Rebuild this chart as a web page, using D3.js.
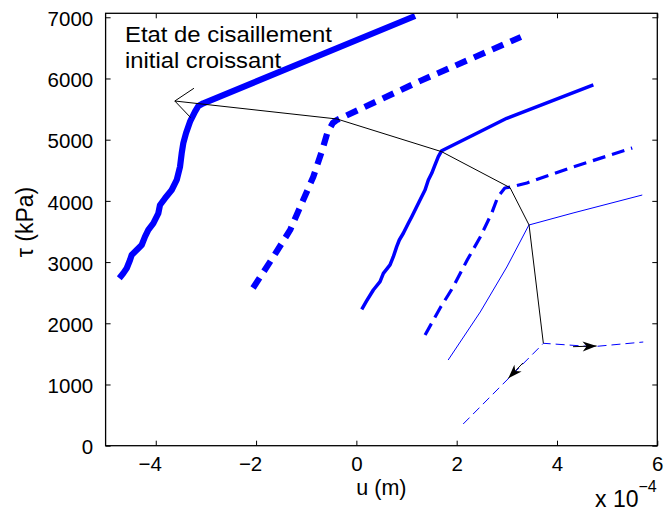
<!DOCTYPE html>
<html>
<head>
<meta charset="utf-8">
<script src="https://cdn.jsdelivr.net/npm/d3@7/dist/d3.min.js"></script>
<style>
  html, body { margin: 0; padding: 0; background: #fff; }
  svg { display: block; }
  text { font-family: "Liberation Sans", Arial, sans-serif; }
</style>
</head>
<body>
<svg id="chart" width="665" height="515"></svg>
<script>
// ---- data (u in units of 1e-4 m, tau in kPa) ----
const curve1 = [[-4.727,2735],[-4.647,2817],[-4.579,2899],[-4.513,3034],[-4.480,3116],[-4.380,3198],[-4.280,3279],[-4.214,3415],[-4.148,3525],[-4.049,3634],[-3.949,3797],[-3.915,3933],[-3.816,4042],[-3.682,4178],[-3.582,4342],[-3.516,4559],[-3.483,4778],[-3.451,4941],[-3.397,5105],[-3.317,5294],[-3.217,5458],[-3.151,5551],[-3.052,5595],[1.170,7021]];
const curve2 = [[-2.06,2577],[-1.66,3080],[-1.32,3525],[-1.06,4015],[-0.86,4391],[-0.68,4832],[-0.58,5110],[-0.47,5273],[-0.39,5322],[1.27,5959],[3.28,6678]];
const curve3 = [[0.107,2229],[0.207,2369],[0.338,2544],[0.472,2680],[0.538,2817],[0.671,2953],[0.737,3088],[0.804,3252],[0.856,3361],[0.936,3471],[1.036,3634],[1.104,3742],[1.269,4015],[1.369,4178],[1.435,4342],[1.502,4451],[1.568,4587],[1.634,4722],[1.702,4820],[2.332,5077],[2.998,5350],[4.725,5894]];
const curve4 = [[1.37,1809],[1.67,2250],[1.93,2593],[2.21,3034],[2.47,3410],[2.70,3802],[2.82,4064],[2.96,4211],[3.08,4227],[3.40,4293],[4.32,4554],[5.50,4864]];
const curve5 = [[1.83,1400],[2.47,2185],[3.00,2920],[3.44,3606],[4.32,3802],[5.70,4096]];
const curve6 = [[2.13,355],[3.73,1673],[4.72,1618],[5.72,1694]];
const yieldPath = [[-3.62,5632],[-0.386,5338],[1.70,4804],[3.064,4216],[3.443,3606],[3.728,1673]];
const arrows = [ // [tail, tip]
  [[4.32,1618],[4.79,1629]],
  [[3.32,1351],[3.03,1101]]
];
const xTicks = [-4,-2,0,2,4,6];
const yTicks = [0,1000,2000,3000,4000,5000,6000,7000];
const annotation = ["Etat de cisaillement", "initial croissant"];

// ---- layout ----
const svg = d3.select("#chart");
svg.append("rect").attr("width",665).attr("height",515).attr("fill","#fff");
const L = 105.6, R = 657.3, T = 13.3, B = 445.7;
const x = d3.scaleLinear().domain([-5,6]).range([L,R]);
const y = d3.scaleLinear().domain([0,7065]).range([B,T]);
const line = d3.line().x(d=>x(d[0])).y(d=>y(d[1]));

const styles = [
  {d:curve1, w:6.2, dash:null},
  {d:curve2, w:6.2, dash:"12,8"},
  {d:curve3, w:3.5, dash:null},
  {d:curve4, w:3.2, dash:"13,7"},
  {d:curve5, w:1, dash:null},
  {d:curve6, w:1, dash:"9,5"}
];
const plot = svg.append("g");
styles.forEach(s=>{
  plot.append("path").attr("d", line(s.d)).attr("fill","none")
    .attr("stroke","#0000ff").attr("stroke-width", s.w)
    .attr("stroke-linejoin","round").attr("stroke-linecap","butt")
    .attr("stroke-dasharray", s.dash);
});

// black yield path
plot.append("path").attr("d", line(yieldPath)).attr("fill","none")
  .attr("stroke","#000").attr("stroke-width",1);
// open arrow head at start of yield path
(function(){
  const p0 = [x(yieldPath[0][0]), y(yieldPath[0][1])];
  const p1 = [x(yieldPath[1][0]), y(yieldPath[1][1])];
  const a = Math.atan2(p1[1]-p0[1], p1[0]-p0[0]);
  const len = 23, sp = 40*Math.PI/180;
  const pts = [[p0[0]+len*Math.cos(a-sp), p0[1]+len*Math.sin(a-sp)], p0,
               [p0[0]+len*Math.cos(a+sp), p0[1]+len*Math.sin(a+sp)]];
  plot.append("path").attr("d", d3.line()(pts)).attr("fill","none")
    .attr("stroke","#000").attr("stroke-width",1);
})();
// filled arrows on curve 6
arrows.forEach(([t,h])=>{
  const p0=[x(t[0]),y(t[1])], p1=[x(h[0]),y(h[1])];
  const a = Math.atan2(p1[1]-p0[1], p1[0]-p0[0]);
  plot.append("line").attr("x1",p0[0]).attr("y1",p0[1]).attr("x2",p1[0]).attr("y2",p1[1])
    .attr("stroke","#000").attr("stroke-width",1);
  const len=14, hw=5, back=10;
  const c=Math.cos(a), s=Math.sin(a);
  const pt=(u,v)=>[p1[0]+u*c - v*s, p1[1]+u*s + v*c];
  const head=[pt(0,0), pt(-len,-hw), pt(-back,0), pt(-len,hw)];
  plot.append("path").attr("d", d3.line()(head)+"Z").attr("fill","#000").attr("stroke","none");
});

// ---- frame & axes ----
const fs = 20.5;
const gx = svg.append("g").attr("transform",`translate(0,${B})`)
  .call(d3.axisBottom(x).tickValues(xTicks).tickSizeInner(-5).tickSizeOuter(0).tickPadding(10.4)
        .tickFormat(d=> d<0 ? "\u2212"+Math.abs(d) : String(d)));
const gy = svg.append("g").attr("transform",`translate(${L},0)`)
  .call(d3.axisLeft(y).tickValues(yTicks).tickSizeInner(-5).tickSizeOuter(0).tickPadding(12.4)
        .tickFormat(d3.format("d")));
const gxt = svg.append("g").attr("transform",`translate(0,${T})`)
  .call(d3.axisTop(x).tickValues(xTicks).tickSizeInner(-5).tickSizeOuter(0).tickFormat(""));
const gyr = svg.append("g").attr("transform",`translate(${R},0)`)
  .call(d3.axisRight(y).tickValues(yTicks).tickSizeInner(-5).tickSizeOuter(0).tickFormat(""));
[gx,gy,gxt,gyr].forEach(g=>{
  g.select(".domain").remove();
  g.selectAll(".tick line").attr("stroke","#000").attr("stroke-width",1);
  g.selectAll("text").attr("font-family","Liberation Sans, Arial, sans-serif")
    .attr("font-size",fs).attr("fill","#000");
});
gx.selectAll(".tick text").attr("text-anchor","end").attr("x", 0.278*fs);
gy.selectAll(".tick text").attr("dy","0.4em");

svg.append("rect").attr("x",L).attr("y",T).attr("width",R-L).attr("height",B-T)
  .attr("fill","none").attr("stroke","#000").attr("stroke-width",1.3);

// ---- labels ----
svg.append("text").attr("x",(L+R)/2).attr("y",495).attr("text-anchor","middle")
  .attr("font-size",21.5).text("u (m)");
svg.append("text").attr("transform","translate(33,222) rotate(-90)").attr("text-anchor","middle")
  .attr("font-size",23).text("\u03c4 (kPa)");
const ex = svg.append("text").attr("x",595).attr("y",506.5).attr("font-size",23);
ex.append("tspan").text("x 10");
ex.append("tspan").attr("font-size",16).attr("dy",-15).text("\u22124");

// annotation
const ann = svg.append("g");
ann.append("text").attr("x",125).attr("y",41.7).attr("font-size",22)
  .attr("textLength",207).attr("lengthAdjust","spacingAndGlyphs").text(annotation[0]);
ann.append("text").attr("x",125).attr("y",68.3).attr("font-size",22)
  .attr("textLength",156).attr("lengthAdjust","spacingAndGlyphs").text(annotation[1]);
</script>
</body>
</html>
